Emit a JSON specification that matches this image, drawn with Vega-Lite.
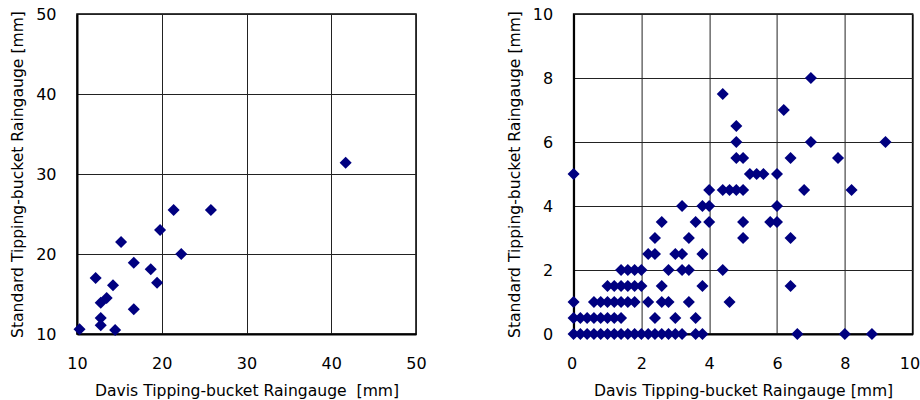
{
  "$schema": "https://vega.github.io/schema/vega-lite/v6.json",
  "padding": {"left": 9, "top": 5, "right": 0, "bottom": 0},
  "background": "white",
  "spacing": 157.6,
  "bounds": "flush",
  "datasets": {
    "left": [
      {"davis": 10.3, "standard": 10.6},
      {"davis": 12.2, "standard": 17.0},
      {"davis": 12.8, "standard": 13.9},
      {"davis": 13.5, "standard": 14.5},
      {"davis": 12.8, "standard": 12.0},
      {"davis": 12.8, "standard": 11.1},
      {"davis": 14.25, "standard": 16.1},
      {"davis": 14.5, "standard": 10.5},
      {"davis": 15.2, "standard": 21.5},
      {"davis": 16.7, "standard": 18.9},
      {"davis": 16.7, "standard": 13.1},
      {"davis": 18.7, "standard": 18.1},
      {"davis": 19.45, "standard": 16.4},
      {"davis": 19.8, "standard": 23.0},
      {"davis": 21.4, "standard": 25.5},
      {"davis": 22.3, "standard": 20.0},
      {"davis": 25.8, "standard": 25.5},
      {"davis": 41.7, "standard": 31.4}
    ],
    "right": [
      {"davis": 0.0, "standard": 0}, {"davis": 0.2, "standard": 0}, {"davis": 0.4, "standard": 0}, {"davis": 0.6, "standard": 0},
      {"davis": 0.8, "standard": 0}, {"davis": 1.0, "standard": 0}, {"davis": 1.2, "standard": 0}, {"davis": 1.4, "standard": 0},
      {"davis": 1.6, "standard": 0}, {"davis": 1.8, "standard": 0}, {"davis": 2.0, "standard": 0}, {"davis": 2.2, "standard": 0},
      {"davis": 2.4, "standard": 0}, {"davis": 2.6, "standard": 0}, {"davis": 2.8, "standard": 0}, {"davis": 3.0, "standard": 0},
      {"davis": 3.2, "standard": 0}, {"davis": 3.6, "standard": 0}, {"davis": 3.8, "standard": 0}, {"davis": 6.6, "standard": 0},
      {"davis": 8.0, "standard": 0}, {"davis": 8.8, "standard": 0},
      {"davis": 0.0, "standard": 0.5}, {"davis": 0.2, "standard": 0.5}, {"davis": 0.4, "standard": 0.5}, {"davis": 0.6, "standard": 0.5},
      {"davis": 0.8, "standard": 0.5}, {"davis": 1.0, "standard": 0.5}, {"davis": 1.2, "standard": 0.5}, {"davis": 1.4, "standard": 0.5},
      {"davis": 2.4, "standard": 0.5}, {"davis": 3.0, "standard": 0.5}, {"davis": 3.6, "standard": 0.5},
      {"davis": 0.0, "standard": 1}, {"davis": 0.6, "standard": 1}, {"davis": 0.8, "standard": 1}, {"davis": 1.0, "standard": 1},
      {"davis": 1.2, "standard": 1}, {"davis": 1.4, "standard": 1}, {"davis": 1.6, "standard": 1}, {"davis": 1.8, "standard": 1},
      {"davis": 2.2, "standard": 1}, {"davis": 2.6, "standard": 1}, {"davis": 2.8, "standard": 1}, {"davis": 3.4, "standard": 1},
      {"davis": 4.6, "standard": 1},
      {"davis": 1.0, "standard": 1.5}, {"davis": 1.2, "standard": 1.5}, {"davis": 1.4, "standard": 1.5}, {"davis": 1.6, "standard": 1.5},
      {"davis": 1.8, "standard": 1.5}, {"davis": 2.0, "standard": 1.5}, {"davis": 2.6, "standard": 1.5}, {"davis": 3.8, "standard": 1.5},
      {"davis": 6.4, "standard": 1.5},
      {"davis": 1.4, "standard": 2}, {"davis": 1.6, "standard": 2}, {"davis": 1.8, "standard": 2}, {"davis": 2.0, "standard": 2},
      {"davis": 2.8, "standard": 2}, {"davis": 3.2, "standard": 2}, {"davis": 3.4, "standard": 2}, {"davis": 4.4, "standard": 2},
      {"davis": 2.2, "standard": 2.5}, {"davis": 2.4, "standard": 2.5}, {"davis": 3.0, "standard": 2.5}, {"davis": 3.2, "standard": 2.5},
      {"davis": 3.8, "standard": 2.5},
      {"davis": 2.4, "standard": 3}, {"davis": 3.4, "standard": 3}, {"davis": 5.0, "standard": 3}, {"davis": 6.4, "standard": 3},
      {"davis": 2.6, "standard": 3.5}, {"davis": 3.6, "standard": 3.5}, {"davis": 4.0, "standard": 3.5}, {"davis": 5.0, "standard": 3.5},
      {"davis": 5.8, "standard": 3.5}, {"davis": 6.0, "standard": 3.5},
      {"davis": 3.2, "standard": 4}, {"davis": 3.8, "standard": 4}, {"davis": 4.0, "standard": 4}, {"davis": 6.0, "standard": 4},
      {"davis": 4.0, "standard": 4.5}, {"davis": 4.4, "standard": 4.5}, {"davis": 4.6, "standard": 4.5}, {"davis": 4.8, "standard": 4.5},
      {"davis": 5.0, "standard": 4.5}, {"davis": 6.8, "standard": 4.5}, {"davis": 8.2, "standard": 4.5},
      {"davis": 0.0, "standard": 5}, {"davis": 5.2, "standard": 5}, {"davis": 5.4, "standard": 5}, {"davis": 5.6, "standard": 5},
      {"davis": 6.0, "standard": 5},
      {"davis": 4.8, "standard": 5.5}, {"davis": 5.0, "standard": 5.5}, {"davis": 6.4, "standard": 5.5}, {"davis": 7.8, "standard": 5.5},
      {"davis": 4.8, "standard": 6}, {"davis": 7.0, "standard": 6}, {"davis": 9.2, "standard": 6},
      {"davis": 4.8, "standard": 6.5},
      {"davis": 6.2, "standard": 7},
      {"davis": 4.4, "standard": 7.5},
      {"davis": 7.0, "standard": 8}
    ]
  },
  "hconcat": [
    {
      "width": 339,
      "height": 320,
      "data": {"name": "left"},
      "mark": {"type": "point", "shape": "diamond", "filled": true, "size": 145, "color": "#000080", "opacity": 1},
      "encoding": {
        "x": {"field": "davis", "type": "quantitative", "scale": {"domain": [10, 50], "nice": false, "zero": false},
              "axis": {"values": [10, 20, 30, 40, 50], "title": "Davis Tipping-bucket Raingauge\u00a0 [mm]"}},
        "y": {"field": "standard", "type": "quantitative", "scale": {"domain": [10, 50], "nice": false, "zero": false},
              "axis": {"values": [10, 20, 30, 40, 50], "title": "Standard Tipping-bucket Raingauge [mm]"}}
      }
    },
    {
      "width": 339,
      "height": 320,
      "data": {"name": "right"},
      "mark": {"type": "point", "shape": "diamond", "filled": true, "size": 145, "color": "#000080", "opacity": 1},
      "encoding": {
        "x": {"field": "davis", "type": "quantitative", "scale": {"domain": [0, 10], "nice": false},
              "axis": {"values": [0, 2, 4, 6, 8, 10], "title": "Davis Tipping-bucket Raingauge [mm]", "labelFlush": true, "labelFlushOffset": 7}},
        "y": {"field": "standard", "type": "quantitative", "scale": {"domain": [0, 10], "nice": false},
              "axis": {"values": [0, 2, 4, 6, 8, 10], "title": "Standard Tipping-bucket Raingauge [mm]"}}
      }
    }
  ],
  "config": {
    "font": "DejaVu Sans",
    "view": {"stroke": "black", "strokeWidth": 1.5},
    "axis": {
      "labelFont": "DejaVu Sans",
      "titleFont": "DejaVu Sans",
      "labelFontSize": 16,
      "titleFontSize": 15.6,
      "titleFontWeight": "normal",
      "labelColor": "black",
      "titleColor": "black",
      "ticks": false,
      "labelPadding": 21,
      "labelFlush": false,
      "labelOverlap": false,
      "gridColor": "#222222",
      "gridOpacity": 1,
      "gridWidth": 1,
      "domainColor": "black",
      "domainWidth": 2
    },
    "axisX": {"titlePadding": 12},
    "axisY": {"titlePadding": 10}
  }
}
